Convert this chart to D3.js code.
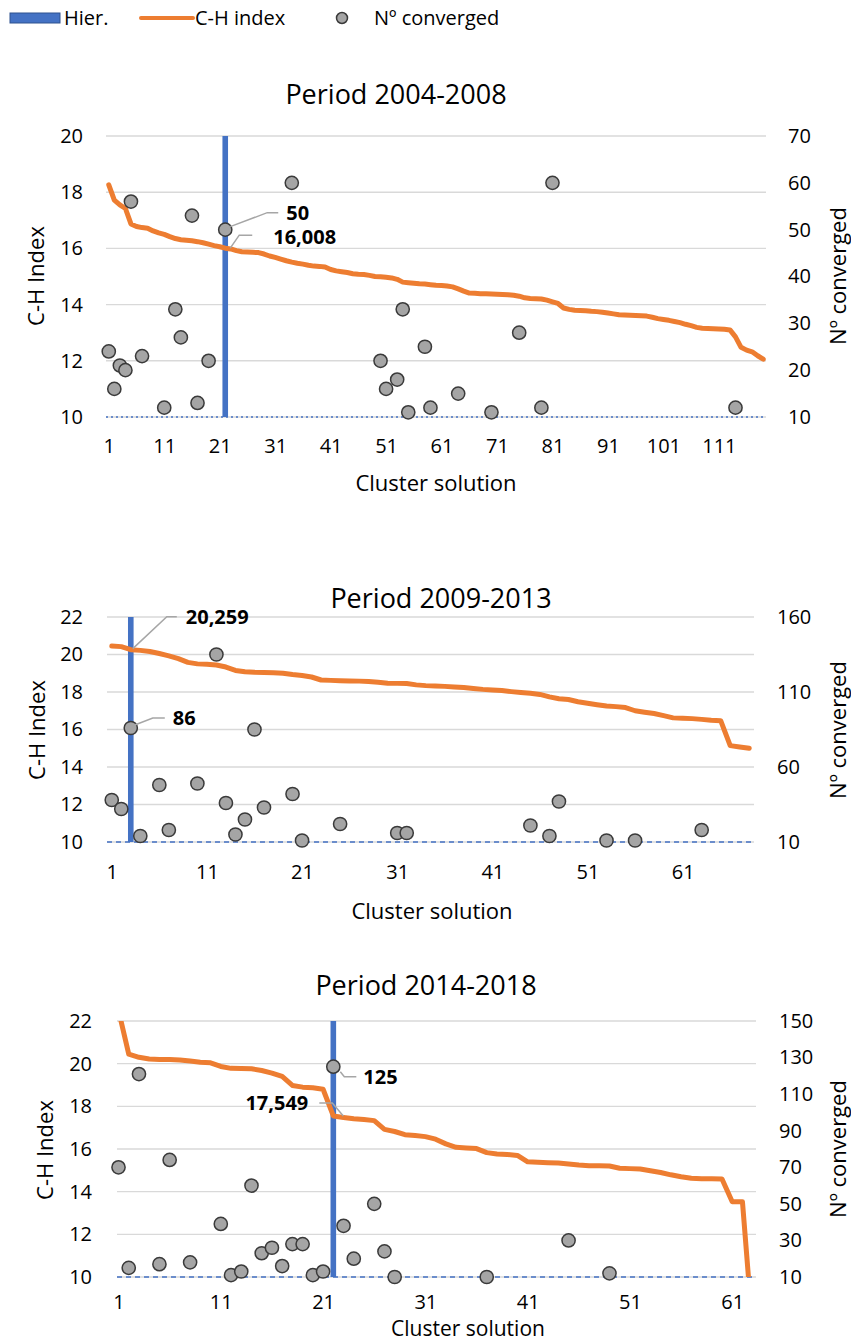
<!DOCTYPE html>
<html>
<head>
<meta charset="utf-8">
<script src="https://cdn.jsdelivr.net/npm/d3@7"></script>
<style>
    body { margin: 0; background: #fff; }
    svg { font-family: "Open Sans", sans-serif; }
</style>
</head>
<body>
<svg id="chart" width="851" height="1341"></svg>
<script>

// ---- Period 2004-2008 ----
const chIndex2004 = [
    18.26, 17.72, 17.55, 17.42, 16.87, 16.78, 16.74, 16.72, 16.62, 16.55,
    16.50, 16.42, 16.35, 16.31, 16.29, 16.27, 16.24, 16.20, 16.15, 16.10,
    16.06, 16.008, 15.98, 15.92, 15.88, 15.87, 15.86, 15.85, 15.80, 15.73,
    15.68, 15.62, 15.56, 15.51, 15.47, 15.44, 15.40, 15.37, 15.36, 15.34,
    15.25, 15.20, 15.17, 15.14, 15.10, 15.08, 15.07, 15.04, 15.00, 14.99,
    14.97, 14.95, 14.90, 14.80, 14.78, 14.76, 14.74, 14.73, 14.71, 14.69,
    14.68, 14.66, 14.63, 14.56, 14.48, 14.41, 14.40, 14.39, 14.39, 14.38,
    14.37, 14.36, 14.35, 14.33, 14.30, 14.24, 14.22, 14.21, 14.20, 14.16,
    14.10, 14.04, 13.88, 13.83, 13.80, 13.79, 13.78, 13.76, 13.75, 13.73,
    13.70, 13.67, 13.64, 13.63, 13.62, 13.61, 13.60, 13.59, 13.55, 13.50,
    13.47, 13.44, 13.40, 13.36, 13.30, 13.25, 13.19, 13.16, 13.15, 13.14,
    13.13, 13.12, 13.10, 12.85, 12.48, 12.38, 12.32, 12.18, 12.06
];
const convergedClusters2004 = [1, 2, 3, 4, 5, 7, 11, 13, 14, 16, 17, 19, 22, 34, 50, 51, 53, 54, 55, 58, 59, 64, 70, 75, 79, 81, 114];
const convergedValues2004 = [24, 16, 21, 20, 56, 23, 12, 33, 27, 53, 13, 22, 50, 60, 22, 16, 18, 33, 11, 25, 12, 15, 11, 28, 12, 60, 12];
const xTicks2004 = [1, 11, 21, 31, 41, 51, 61, 71, 81, 91, 101, 111];
const leftTicks2004 = [10, 12, 14, 16, 18, 20];
const rightTicks2004 = [10, 20, 30, 40, 50, 60, 70];

// ---- Period 2009-2013 ----
const chIndex2009 = [
    20.45, 20.42, 20.259, 20.22, 20.16, 20.05, 19.93, 19.78, 19.58, 19.50,
    19.48, 19.44, 19.33, 19.15, 19.08, 19.05, 19.04, 19.03, 19.00, 18.93,
    18.88, 18.80, 18.64, 18.62, 18.60, 18.59, 18.58, 18.56, 18.52, 18.47,
    18.46, 18.45, 18.38, 18.34, 18.32, 18.30, 18.27, 18.24, 18.19, 18.14,
    18.11, 18.08, 18.02, 17.97, 17.93, 17.87, 17.74, 17.64, 17.60, 17.48,
    17.40, 17.32, 17.25, 17.22, 17.17, 17.00, 16.92, 16.85, 16.74, 16.62,
    16.60, 16.58, 16.54, 16.49, 16.47, 15.14, 15.07, 15.00
];
const convergedClusters2009 = [1, 2, 3, 4, 6, 7, 10, 12, 13, 14, 15, 16, 17, 20, 21, 25, 31, 32, 45, 47, 48, 53, 56, 63];
const convergedValues2009 = [38, 32, 86, 14, 48, 18, 49, 135, 36, 15, 25, 85, 33, 42, 11, 22, 16, 16, 21, 14, 37, 11, 11, 18];
const xTicks2009 = [1, 11, 21, 31, 41, 51, 61];
const leftTicks2009 = [10, 12, 14, 16, 18, 20, 22];
const rightTicks2009 = [10, 60, 110, 160];

// ---- Period 2014-2018 ----
const chIndex2014 = [
    22.5, 20.45, 20.30, 20.22, 20.20, 20.19, 20.17, 20.12, 20.07, 20.04,
    19.87, 19.78, 19.77, 19.76, 19.68, 19.56, 19.40, 18.98, 18.90, 18.87,
    18.80, 17.549, 17.48, 17.42, 17.38, 17.33, 16.92, 16.82, 16.67, 16.63,
    16.58, 16.46, 16.24, 16.08, 16.05, 16.02, 15.83, 15.77, 15.74, 15.70,
    15.40, 15.38, 15.36, 15.34, 15.30, 15.25, 15.22, 15.21, 15.20, 15.10,
    15.08, 15.06, 14.98, 14.90, 14.79, 14.70, 14.63, 14.61, 14.60, 14.59,
    13.53, 13.53, 7.5
];
const convergedClusters2014 = [1, 2, 3, 5, 6, 8, 11, 12, 13, 14, 15, 16, 17, 18, 19, 20, 21, 22, 23, 24, 26, 27, 28, 37, 45, 49];
const convergedValues2014 = [70, 15, 121, 17, 74, 18, 39, 11, 13, 60, 23, 26, 16, 28, 28, 11, 13, 125, 38, 20, 50, 24, 10, 10, 30, 12];
const xTicks2014 = [1, 11, 21, 31, 41, 51, 61];
const leftTicks2014 = [10, 12, 14, 16, 18, 20, 22];
const rightTicks2014 = [10, 30, 50, 70, 90, 110, 130, 150];

const hierClusters = [22, 3, 22];
const periodTitles = ["Period 2004-2008", "Period 2009-2013", "Period 2014-2018"];

const BLUE = "#4472c4", ORANGE = "#ed7d31", GREY = "#a5a5a5";
const commaFormat = v => v.toFixed(3).replace(".", ",");


class DualAxisChart {

    constructor(_svg, _config) {
        this.svg = _svg;
        this.config = _config;
        this.initVis();
    }

    initVis() {
        let vis = this;
        let c = vis.config;

        vis.g = vis.svg.append("g");

        vis.x = d3.scalePoint()
            .domain(c.chIndex.map((d, i) => i + 1))
            .range([c.left, c.right])
            .padding(0.5);
        vis.yL = d3.scaleLinear().domain([c.leftTicks[0], c.leftTicks[c.leftTicks.length - 1]]).range([c.bottom, c.top]);
        vis.yR = d3.scaleLinear().domain([c.rightTicks[0], c.rightTicks[c.rightTicks.length - 1]]).range([c.bottom, c.top]);

        vis.gridLeft = c.gridLeft || c.left;
        vis.gridRight = c.gridRight || c.right;

        // clip path for the line
        vis.g.append("defs").append("clipPath")
            .attr("id", "clip-" + c.id)
            .append("rect")
            .attr("x", vis.gridLeft)
            .attr("y", c.top)
            .attr("width", vis.gridRight - vis.gridLeft)
            .attr("height", c.bottom - c.top);

        // title
        vis.g.append("text")
            .attr("x", c.titlePos[0])
            .attr("y", c.titlePos[1])
            .attr("dy", "0.36em")
            .attr("text-anchor", "middle")
            .style("font-size", "27px")
            .text(c.title);

        // gridlines
        vis.g.selectAll(".grid")
            .data(c.leftTicks)
            .enter().append("line")
            .attr("class", "grid")
            .attr("x1", vis.gridLeft)
            .attr("x2", vis.gridRight)
            .attr("y1", d => vis.yL(d))
            .attr("y2", d => vis.yL(d))
            .attr("stroke", "#d9d9d9")
            .attr("stroke-width", 1.4);

        // baseline
        vis.g.append("line")
            .attr("x1", vis.gridLeft)
            .attr("x2", vis.gridRight)
            .attr("y1", vis.yL(c.leftTicks[0]))
            .attr("y2", vis.yL(c.leftTicks[0]))
            .attr("stroke", BLUE)
            .attr("stroke-width", 1.3)
            .attr("stroke-dasharray", c.baseDash);

        // axes
        vis.yAxisLeft = d3.axisLeft(vis.yL).tickValues(c.leftTicks).tickSize(0).tickPadding(0);
        vis.yAxisRight = d3.axisRight(vis.yR).tickValues(c.rightTicks).tickSize(0).tickPadding(0);
        vis.xAxis = d3.axisBottom(vis.x).tickValues(c.xTicks).tickSize(0).tickPadding(0);

        vis.g.append("g")
            .attr("transform", "translate(" + c.leftLabelX + ",0)")
            .call(vis.yAxisLeft);
        vis.g.append("g")
            .attr("transform", "translate(" + c.rightLabelX + ",0)")
            .call(vis.yAxisRight);
        vis.g.append("g")
            .attr("transform", "translate(0," + (c.xLabelY - 7) + ")")
            .call(vis.xAxis);

        vis.g.selectAll(".domain").remove();
        vis.g.selectAll(".tick text")
            .attr("fill", "#000")
            .style("font-size", "20px")
            .style("font-family", "'Open Sans', sans-serif");

        // axis titles
        vis.g.append("text")
            .attr("x", c.xTitlePos[0])
            .attr("y", c.xTitlePos[1])
            .attr("dy", "0.36em")
            .attr("text-anchor", "middle")
            .style("font-size", c.xTitleSize || "22px")
            .text("Cluster solution");

        vis.g.append("text")
            .attr("transform", `translate(${c.leftTitlePos[0]},${c.leftTitlePos[1]}) rotate(-90)`)
            .attr("dy", "0.36em")
            .attr("text-anchor", "middle")
            .style("font-size", "22px")
            .text("C-H Index");

        vis.g.append("text")
            .attr("transform", `translate(${c.rightTitlePos[0]},${c.rightTitlePos[1]}) rotate(-90)`)
            .attr("dy", "0.36em")
            .attr("text-anchor", "middle")
            .style("font-size", "22px")
            .text("Nº converged");

        vis.line = d3.line()
            .x((d, i) => vis.x(i + 1))
            .y(d => vis.yL(d));

        vis.updateVis();
    }

    updateVis() {
        let vis = this;
        let c = vis.config;

        // Hier. bar
        vis.g.append("rect")
            .attr("x", vis.x(c.hier) - 2.8)
            .attr("y", vis.yL.range()[1])
            .attr("width", 5.6)
            .attr("height", vis.yL.range()[0] - vis.yL.range()[1])
            .attr("fill", BLUE);

        // C-H index line
        vis.g.append("path")
            .datum(c.chIndex)
            .attr("clip-path", "url(#clip-" + c.id + ")")
            .attr("fill", "none")
            .attr("stroke", ORANGE)
            .attr("stroke-width", 5)
            .attr("stroke-linejoin", "round")
            .attr("stroke-linecap", "round")
            .attr("d", vis.line);

        // converged points
        let points = c.convClusters.map((d, i) => ({cluster: d, value: c.convValues[i]}));
        vis.g.selectAll(".conv")
            .data(points)
            .enter().append("circle")
            .attr("class", "conv")
            .attr("cx", d => vis.x(d.cluster))
            .attr("cy", d => vis.yR(d.value))
            .attr("r", 6.6)
            .attr("fill", GREY)
            .attr("stroke", "#3a3a3a")
            .attr("stroke-width", 1.5);

        // data labels at the Hier. cluster
        let convAtHier = c.convValues[c.convClusters.indexOf(c.hier)];
        let labels = [
            {px: vis.x(c.hier), py: vis.yL(c.chIndex[c.hier - 1]), text: commaFormat(c.chIndex[c.hier - 1]), o: c.chLabel},
            {px: vis.x(c.hier), py: vis.yR(convAtHier), text: String(convAtHier), o: c.convLabel}
        ];

        labels.forEach(l => {
            vis.g.append("path")
                .attr("fill", "none")
                .attr("stroke", "#a6a6a6")
                .attr("stroke-width", 1.5)
                .attr("d", d3.line()(l.o.leader.map(p => [l.px + p[0], l.py + p[1]])));
            vis.g.append("text")
                .attr("x", l.px + l.o.text[0])
                .attr("y", l.py + l.o.text[1])
                .attr("dy", "0.36em")
                .attr("text-anchor", l.o.anchor || "start")
                .style("font-size", "20px")
                .style("font-weight", "bold")
                .text(l.text);
        });
    }
}


const svg = d3.select("#chart");

// legend
const legend = svg.append("g").attr("transform", "translate(0,18)");
legend.append("rect")
    .attr("x", 10).attr("y", -5).attr("width", 50).attr("height", 10)
    .attr("fill", BLUE).attr("stroke", "#2f528f").attr("stroke-width", 1);
legend.append("text").attr("x", 64).attr("dy", "0.36em").style("font-size", "20px").text("Hier.");
legend.append("line")
    .attr("x1", 141).attr("x2", 193)
    .attr("stroke", ORANGE).attr("stroke-width", 4).attr("stroke-linecap", "round");
legend.append("text").attr("x", 195).attr("dy", "0.36em").style("font-size", "20px").text("C-H index");
legend.append("circle")
    .attr("cx", 342).attr("r", 5.5)
    .attr("fill", GREY).attr("stroke", "#3a3a3a").attr("stroke-width", 1.5);
legend.append("text").attr("x", 374).attr("dy", "0.36em").style("font-size", "20px").text("Nº converged");

new DualAxisChart(svg, {
    id: "p1", title: periodTitles[0],
    chIndex: chIndex2004, convClusters: convergedClusters2004, convValues: convergedValues2004,
    xTicks: xTicks2004, leftTicks: leftTicks2004, rightTicks: rightTicks2004, hier: hierClusters[0],
    top: 136, bottom: 417, left: 106, right: 766,
    leftLabelX: 83, rightLabelX: 788, xLabelY: 446,
    titlePos: [396, 94], xTitlePos: [436, 483], leftTitlePos: [36, 276], rightTitlePos: [838, 276],
    baseDash: "2,3",
    chLabel: {leader: [[5, 0], [14, -13], [27, -13]], text: [48, -11]},
    convLabel: {leader: [[5, -3], [42, -17], [53, -17]], text: [61, -17]}
});

new DualAxisChart(svg, {
    id: "p2", title: periodTitles[1],
    chIndex: chIndex2009, convClusters: convergedClusters2009, convValues: convergedValues2009,
    xTicks: xTicks2009, leftTicks: leftTicks2009, rightTicks: rightTicks2009, hier: hierClusters[1],
    top: 617, bottom: 842, left: 107, right: 754,
    leftLabelX: 83, rightLabelX: 777, xLabelY: 872,
    titlePos: [441, 598], xTitlePos: [432, 911], leftTitlePos: [37, 730], rightTitlePos: [838, 730],
    baseDash: "5,4",
    chLabel: {leader: [[2, -1], [36, -33], [46, -33]], text: [55, -33]},
    convLabel: {leader: [[4, -3], [22, -10], [34, -10]], text: [42, -10]}
});

new DualAxisChart(svg, {
    id: "p3", title: periodTitles[2],
    chIndex: chIndex2014, convClusters: convergedClusters2014, convValues: convergedValues2014,
    xTicks: xTicks2014, leftTicks: leftTicks2014, rightTicks: rightTicks2014, hier: hierClusters[2],
    top: 1021, bottom: 1277, left: 113.4, right: 757.8, gridLeft: 117, gridRight: 756,
    leftLabelX: 92, rightLabelX: 779, xLabelY: 1302,
    titlePos: [426, 985], xTitlePos: [468, 1328], xTitleSize: "21px", leftTitlePos: [45, 1150], rightTitlePos: [838, 1149],
    baseDash: "5,4",
    chLabel: {leader: [[10, 0], [-1, -13], [-14, -13]], text: [-25, -13], anchor: "end"},
    convLabel: {leader: [[7, 5], [11, 10], [23, 10]], text: [30, 10]}
});

</script>
</body>
</html>
